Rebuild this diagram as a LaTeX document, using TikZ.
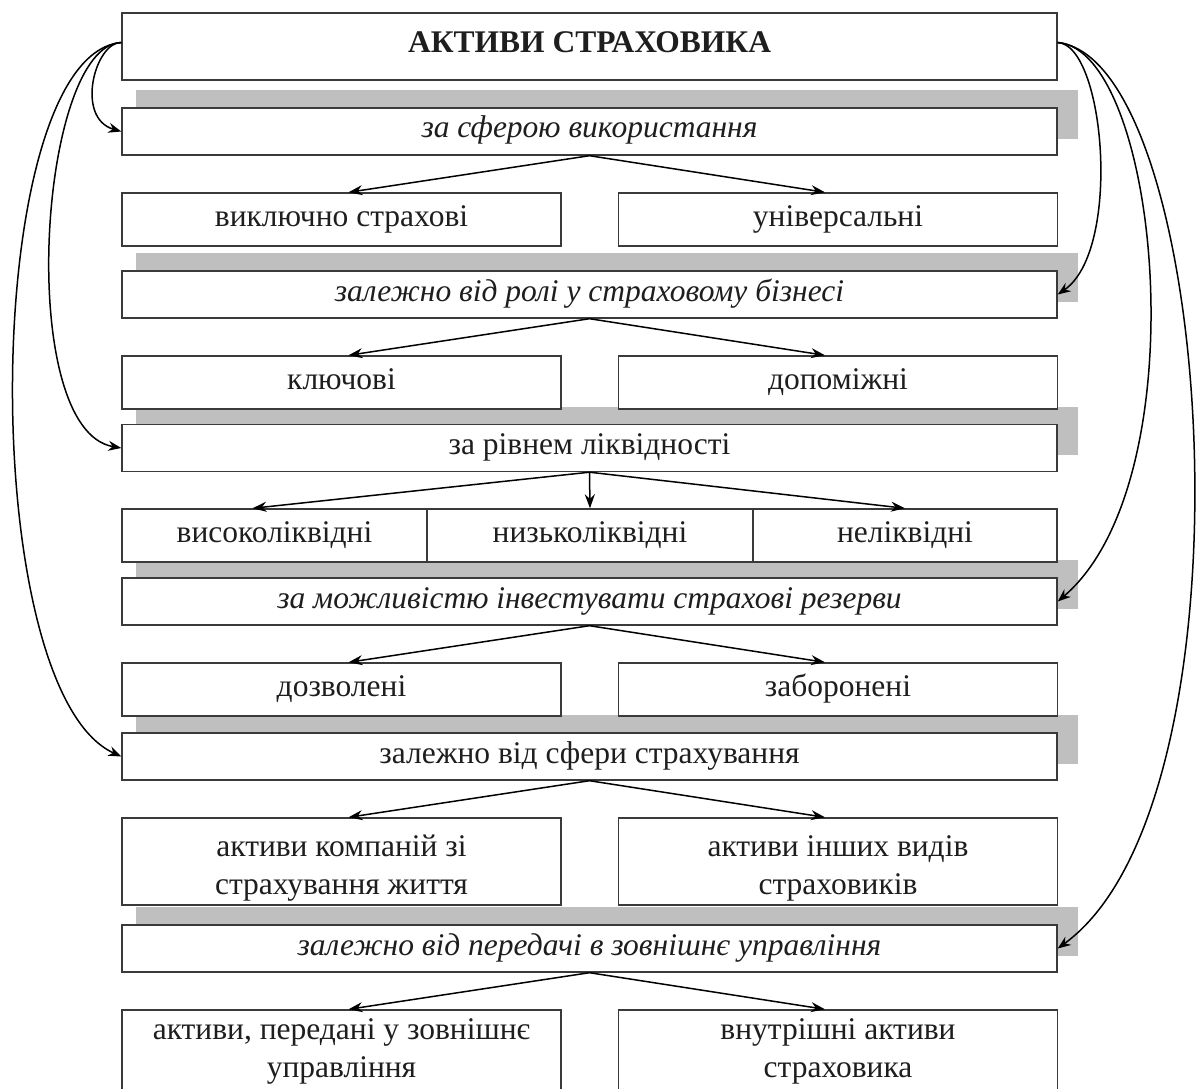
\documentclass[tikz,border=0pt]{standalone}
\usepackage{fontspec}
\setmainfont{Liberation Serif}
\usetikzlibrary{arrows.meta,backgrounds}
\definecolor{shadowgray}{HTML}{BFBFBF}
\definecolor{linegray}{HTML}{3A3A3A}
\definecolor{txt}{HTML}{1E1E1E}
\begin{document}
\begin{tikzpicture}[x=1pt,y=-1pt,
  box/.style={draw=linegray,line width=1.4pt,fill=white,inner sep=0pt,text=txt,align=center,
    font=\fontsize{31.5}{38}\selectfont},
  one/.style={text height=21pt,text depth=8pt},
  wide/.style={box,one,minimum width=935pt},
  cat/.style={wide,minimum height=47pt},
  catit/.style={cat,font=\fontsize{31.5}{38}\selectfont\itshape},
  half/.style={box,minimum width=439pt},
  halfone/.style={half,one,minimum height=53pt},
  lbl/.style={inner sep=0pt,text=txt,align=center,font=\fontsize{31.5}{38}\selectfont},
  arr/.style={draw=black,line width=1.5pt,-{Stealth[length=14pt,width=10pt]}},
  curv/.style={draw=black,line width=1.5pt,-{Stealth[length=13pt,width=10pt]}},
  shad/.style={fill=shadowgray}
]
\useasboundingbox (0,0) rectangle (1197,1089);
% title
\node[wide,minimum height=67pt,font=\fontsize{31.5}{38}\selectfont\bfseries] (title) at (589.5,46.5) {АКТИВИ СТРАХОВИКА};
% level 1
\node[catit] (c1) at (589.5,131.5) {за сферою використання};
\node[halfone] (r1l) at (341.5,219.5) {виключно страхові};
\node[halfone] (r1r) at (838,219.5) {універсальні};
% level 2
\node[catit] (c2) at (589.5,294.5) {залежно від ролі у страховому бізнесі};
\node[halfone] (r2l) at (341.5,382.5) {ключові};
\node[halfone] (r2r) at (838,382.5) {допоміжні};
% level 3
\node[cat] (c3) at (589.5,448) {за рівнем ліквідності};
\node[box,one,minimum width=305pt,minimum height=53pt] (r3a) at (274.5,535.5) {високоліквідні};
\node[box,one,minimum width=326pt,minimum height=53pt] (r3b) at (590,535.5) {низьколіквідні};
\node[box,one,minimum width=304pt,minimum height=53pt] (r3c) at (905,535.5) {неліквідні};
% level 4
\node[catit] (c4) at (589.5,601.5) {за можливістю інвестувати страхові резерви};
\node[halfone] (r4l) at (341.5,689.5) {дозволені};
\node[halfone] (r4r) at (838,689.5) {заборонені};
% level 5
\node[cat] (c5) at (589.5,756.5) {залежно від сфери страхування};
\node[half,minimum height=87pt] (r5l) at (341.5,861.5) {};
\node[half,minimum height=87pt] (r5r) at (838,861.5) {};
\node[lbl] (r5lt) at (341.5,868) {активи компаній зі\\страхування життя};
\node[lbl] (r5rt) at (838,868) {активи інших видів\\страховиків};
% level 6
\node[catit] (c6) at (589.5,948.5) {залежно від передачі в зовнішнє управління};
\node[half,minimum height=88pt] (r6l) at (341.5,1054) {};
\node[half,minimum height=88pt] (r6r) at (838,1054) {};
\node[lbl] (r6lt) at (341.5,1051) {активи, передані у зовнішнє\\управління};
\node[lbl] (r6rt) at (838,1051) {внутрішні активи\\страховика};
% shadows
\begin{scope}[on background layer]
\foreach \c in {c1,c2,c3,c4,c5,c6}{
  \fill[shad] ([xshift=15pt,yshift=17pt]\c.south west) rectangle ([xshift=20pt,yshift=17pt]\c.north east);
}
\end{scope}
% tree arrows
\foreach \p/\l/\r in {c1/r1l/r1r,c2/r2l/r2r,c4/r4l/r4r,c5/r5l/r5r,c6/r6l/r6r}{
  \draw[arr] (\p.south) -- ([xshift=7pt]\l.north);
  \draw[arr] (\p.south) -- ([xshift=-13pt]\r.north);
}
\draw[arr] (c3.south) -- ([xshift=-22pt]r3a.north);
\draw[arr] (c3.south) -- (r3b.north);
\draw[arr] (c3.south) -- (r3c.north);
% left curves
\draw[curv] ([yshift=4pt]title.west) .. controls (95,42) and (75,118) .. (c1.west);
\draw[curv] ([yshift=4pt]title.west) .. controls (38,45) and (15,430) .. (c3.west);
\draw[curv] ([yshift=4pt]title.west) .. controls (-20,55) and (-25,690) .. (c5.west);
% right curves
\draw[curv] ([yshift=4pt]title.east) .. controls (1105,45) and (1122,250) .. (c2.east);
\draw[curv] ([yshift=4pt]title.east) .. controls (1160,50) and (1200,480) .. (c4.east);
\draw[curv] ([yshift=4pt]title.east) .. controls (1215,60) and (1262,800) .. (c6.east);
\end{tikzpicture}
\end{document}
